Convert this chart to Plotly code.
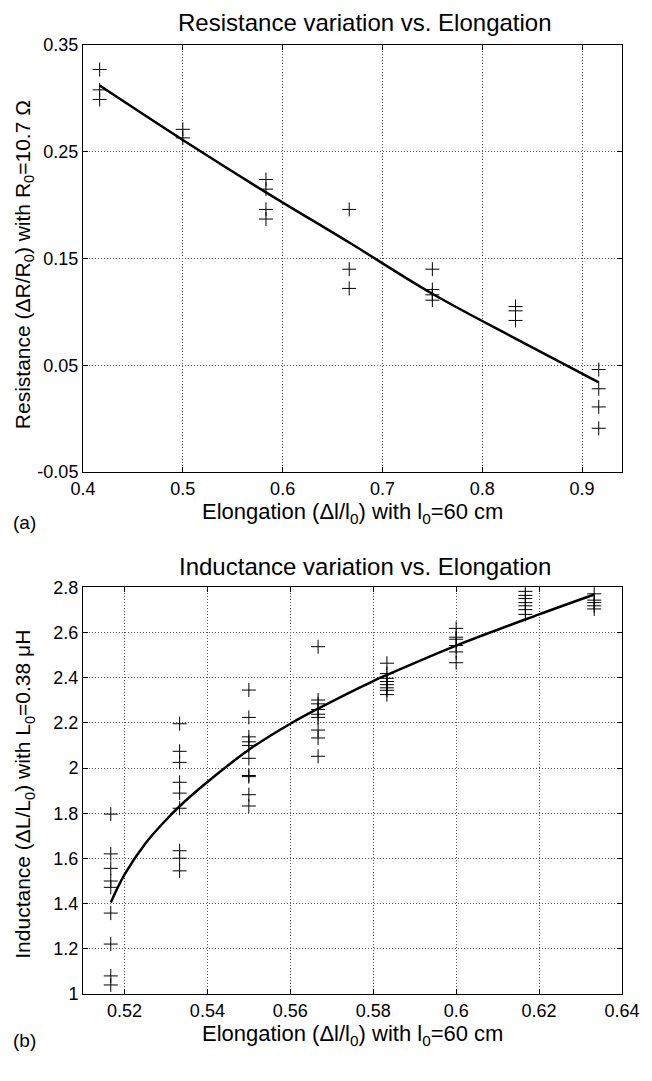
import plotly.graph_objects as go

# (a) resistance vs elongation
res_elong = [0.4167, 0.4167, 0.4167,
             0.5, 0.5,
             0.5833, 0.5833, 0.5833, 0.5833,
             0.6667, 0.6667, 0.6667,
             0.75, 0.75, 0.75, 0.75,
             0.8333, 0.8333, 0.8333,
             0.9167, 0.9167, 0.9167, 0.9167]
res_val = [0.327, 0.308, 0.299,
           0.271, 0.263,
           0.224, 0.215, 0.196, 0.187,
           0.196, 0.140, 0.122,
           0.140, 0.121, 0.116, 0.111,
           0.105, 0.101, 0.092,
           0.046, 0.028, 0.011, -0.009]
res_fit_x = [0.4167, 0.5, 0.5833, 0.6667, 0.75, 0.8333, 0.9167]
res_fit_y = [0.312, 0.261, 0.212, 0.165, 0.117, 0.075, 0.034]

# (b) inductance vs elongation
ind_elong = ([0.5167] * 9 + [0.5333] * 9 + [0.55] * 10 + [0.5667] * 9 +
             [0.5833] * 8 + [0.6] * 6 + [0.6167] * 7 + [0.6333] * 5)
ind_val = [1.796, 1.62, 1.556, 1.50, 1.472, 1.358, 1.221, 1.08, 1.04,
           2.196, 2.074, 2.025, 1.937, 1.889, 1.822, 1.634, 1.601, 1.545,
           2.345, 2.224, 2.138, 2.116, 2.10, 2.043, 1.967, 1.962, 1.882, 1.832,
           2.537, 2.301, 2.284, 2.259, 2.238, 2.224, 2.168, 2.133, 2.052,
           2.464, 2.418, 2.397, 2.383, 2.369, 2.355, 2.344, 2.325,
           2.618, 2.579, 2.570, 2.542, 2.514, 2.466,
           2.782, 2.764, 2.750, 2.732, 2.718, 2.701, 2.680,
           2.771, 2.743, 2.732, 2.718, 2.704]
ind_fit_x = [0.5167, 0.52, 0.525, 0.53, 0.5333, 0.54, 0.55, 0.56, 0.5667,
             0.58, 0.5833, 0.6, 0.62, 0.6333]
ind_fit_y = [1.405, 1.528, 1.665, 1.770, 1.831, 1.938, 2.081, 2.196, 2.263,
             2.385, 2.412, 2.542, 2.68, 2.768]

res_yticks = [-0.05, 0.05, 0.15, 0.25, 0.35]
res_xticks = [0.4, 0.5, 0.6, 0.7, 0.8, 0.9]
ind_yticks = [1, 1.2, 1.4, 1.6, 1.8, 2, 2.2, 2.4, 2.6, 2.8]
ind_xticks = [0.52, 0.54, 0.56, 0.58, 0.6, 0.62, 0.64]

FONT = "Liberation Sans, Arial, sans-serif"
cross = dict(symbol='cross-thin', size=10, line=dict(color='black', width=1))
fitline = dict(color='black', width=2.5, shape='spline')

fig = go.Figure()
fig.add_trace(go.Scatter(x=res_elong, y=res_val, mode='markers', marker=cross,
                         xaxis='x', yaxis='y'))
fig.add_trace(go.Scatter(x=res_fit_x, y=res_fit_y, mode='lines', line=fitline,
                         xaxis='x', yaxis='y'))
fig.add_trace(go.Scatter(x=ind_elong, y=ind_val, mode='markers', marker=cross,
                         xaxis='x2', yaxis='y2'))
fig.add_trace(go.Scatter(x=ind_fit_x, y=ind_fit_y, mode='lines', line=fitline,
                         xaxis='x2', yaxis='y2'))

ax = dict(showline=True, linecolor='black', linewidth=1, mirror='ticks',
          ticks='inside', ticklen=5, tickcolor='black',
          showgrid=True, gridcolor='#555', griddash='1px,2px', gridwidth=1,
          zeroline=False, tickfont=dict(size=18, color='black'))

def labels(vals):
    return [('%g' % v) for v in vals]

# page body has an 8px margin, so the figure is 8px smaller than the window
fig.update_layout(
    width=644, height=1073,
    margin=dict(l=75, r=21, t=37, b=87),
    plot_bgcolor='white', paper_bgcolor='white',
    font=dict(family=FONT, color='black'),
    showlegend=False,
    xaxis=dict(ax, domain=[0, 1], range=[0.4, 0.94], anchor='y',
               tickvals=res_xticks, ticktext=labels(res_xticks)),
    yaxis=dict(ax, domain=[0.55, 1], range=[-0.05, 0.35], anchor='x',
               tickvals=res_yticks, ticktext=labels(res_yticks)),
    xaxis2=dict(ax, domain=[0, 1], range=[0.51, 0.64], anchor='y2',
                tickvals=ind_xticks, ticktext=labels(ind_xticks)),
    yaxis2=dict(ax, domain=[0, 0.4286], range=[1, 2.8], anchor='x2',
                tickvals=ind_yticks, ticktext=labels(ind_yticks)),
)

notes = [
    (0.524, 1.0232, "Resistance variation vs. Elongation", 24, 0),
    (0.524, 0.451, "Inductance variation vs. Elongation", 24, 0),
    (0.5, 0.5068, "Elongation (\u0394l/l<sub>0</sub>) with l<sub>0</sub>=60 cm", 22, 0),
    (0.5, -0.0432, "Elongation (\u0394l/l<sub>0</sub>) with l<sub>0</sub>=60 cm", 22, 0),
    (-0.1095, 0.769, "Resistance (\u0394R/R<sub>0</sub>) with R<sub>0</sub>=10.7 \u03a9", 21, -90),
    (-0.1095, 0.211, "Inductance (\u0394L/L<sub>0</sub>) with L<sub>0</sub>=0.38 \u03bcH", 21, -90),
]
for x, y, t, s, ang in notes:
    fig.add_annotation(x=x, y=y, xref='paper', yref='paper', text=t, showarrow=False,
                       textangle=ang, xanchor='center', yanchor='middle',
                       font=dict(size=s, family=FONT, color='black'))

for y, t in [(0.497, "(a)"), (-0.0495, "(b)")]:
    fig.add_annotation(x=-0.133, y=y, xref='paper', yref='paper', text=t,
                       showarrow=False, xanchor='left', yanchor='middle',
                       font=dict(size=19, family=FONT, color='black'))

fig.write_html("out.html")
